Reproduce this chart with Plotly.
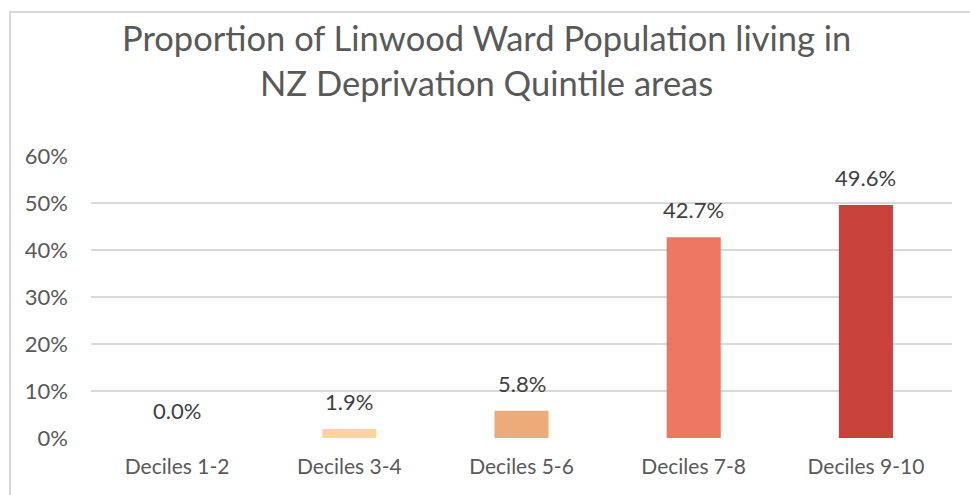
import plotly.graph_objects as go

categories = ["Deciles 1-2", "Deciles 3-4", "Deciles 5-6", "Deciles 7-8", "Deciles 9-10"]
values = [0.0, 1.9, 5.8, 42.7, 49.6]
value_labels = ["0.0%", "1.9%", "5.8%", "42.7%", "49.6%"]
bar_colors = ["#FDD59B", "#FDD59B", "#EDAB7A", "#ED7762", "#C8423B"]
tick_vals = [0, 10, 20, 30, 40, 50, 60]
tick_text = ["0%", "10%", "20%", "30%", "40%", "50%", "60%"]
title_lines = ["Proportion of Linwood Ward Population living in", "NZ Deprivation Quintile areas"]

FONT = "Lato"
PLOT_LEFT, PLOT_RIGHT = 91, 952
PLOT_TOP, PLOT_BOTTOM = 155.5, 438.5


def px_(pix):
    return (pix - PLOT_LEFT) / (PLOT_RIGHT - PLOT_LEFT)


def py(pix):
    return (PLOT_BOTTOM - pix) / (PLOT_BOTTOM - PLOT_TOP)


fig = go.Figure()
fig.add_trace(go.Bar(
    x=categories, y=values, marker=dict(color=bar_colors, line=dict(width=0)),
    width=0.314, hoverinfo="skip",
))

for c, v, t in zip(categories, values, value_labels):
    fig.add_annotation(x=c, y=v, xref="x", yref="y", text=t, showarrow=False,
                       yanchor="bottom", yshift=12,
                       font=dict(family=FONT, size=22, color="#404040"))

# title lines
for line, centre in zip(title_lines, [37, 82]):
    fig.add_annotation(x=px_(486), xref="paper", y=py(centre), yref="paper", text=line,
                       showarrow=False, xanchor="center", yanchor="middle",
                       font=dict(family=FONT, size=34.5, color="#595959"))

# chart border (extends beyond the visible frame on right and bottom)
fig.add_shape(type="rect", xref="paper", yref="paper",
              x0=px_(10), x1=1.2, y0=-0.5, y1=py(11),
              line=dict(color="#D9D9D9", width=2), fillcolor="rgba(0,0,0,0)", layer="below")

fig.update_layout(
    width=970, height=495,
    margin=dict(l=PLOT_LEFT, r=970 - PLOT_RIGHT, t=156, b=57, autoexpand=False),
    paper_bgcolor="white", plot_bgcolor="white",
    showlegend=False,
    xaxis=dict(showgrid=False, showline=False, ticks="", zeroline=False, ticklabelstandoff=14,
               tickfont=dict(family=FONT, size=21, color="#595959")),
    yaxis=dict(range=[0, 60], tickvals=tick_vals, ticktext=tick_text,
               showgrid=True, gridcolor="#D9D9D9", gridwidth=1.5,
               zeroline=False, showline=False, ticks="", ticklabelstandoff=22,
               tickfont=dict(family=FONT, size=22, color="#595959")),
    font=dict(family=FONT),
)

fig.write_html("out.html", config={"displayModeBar": False},
               post_script="document.body.style.margin='0';document.body.style.overflow='hidden';")
